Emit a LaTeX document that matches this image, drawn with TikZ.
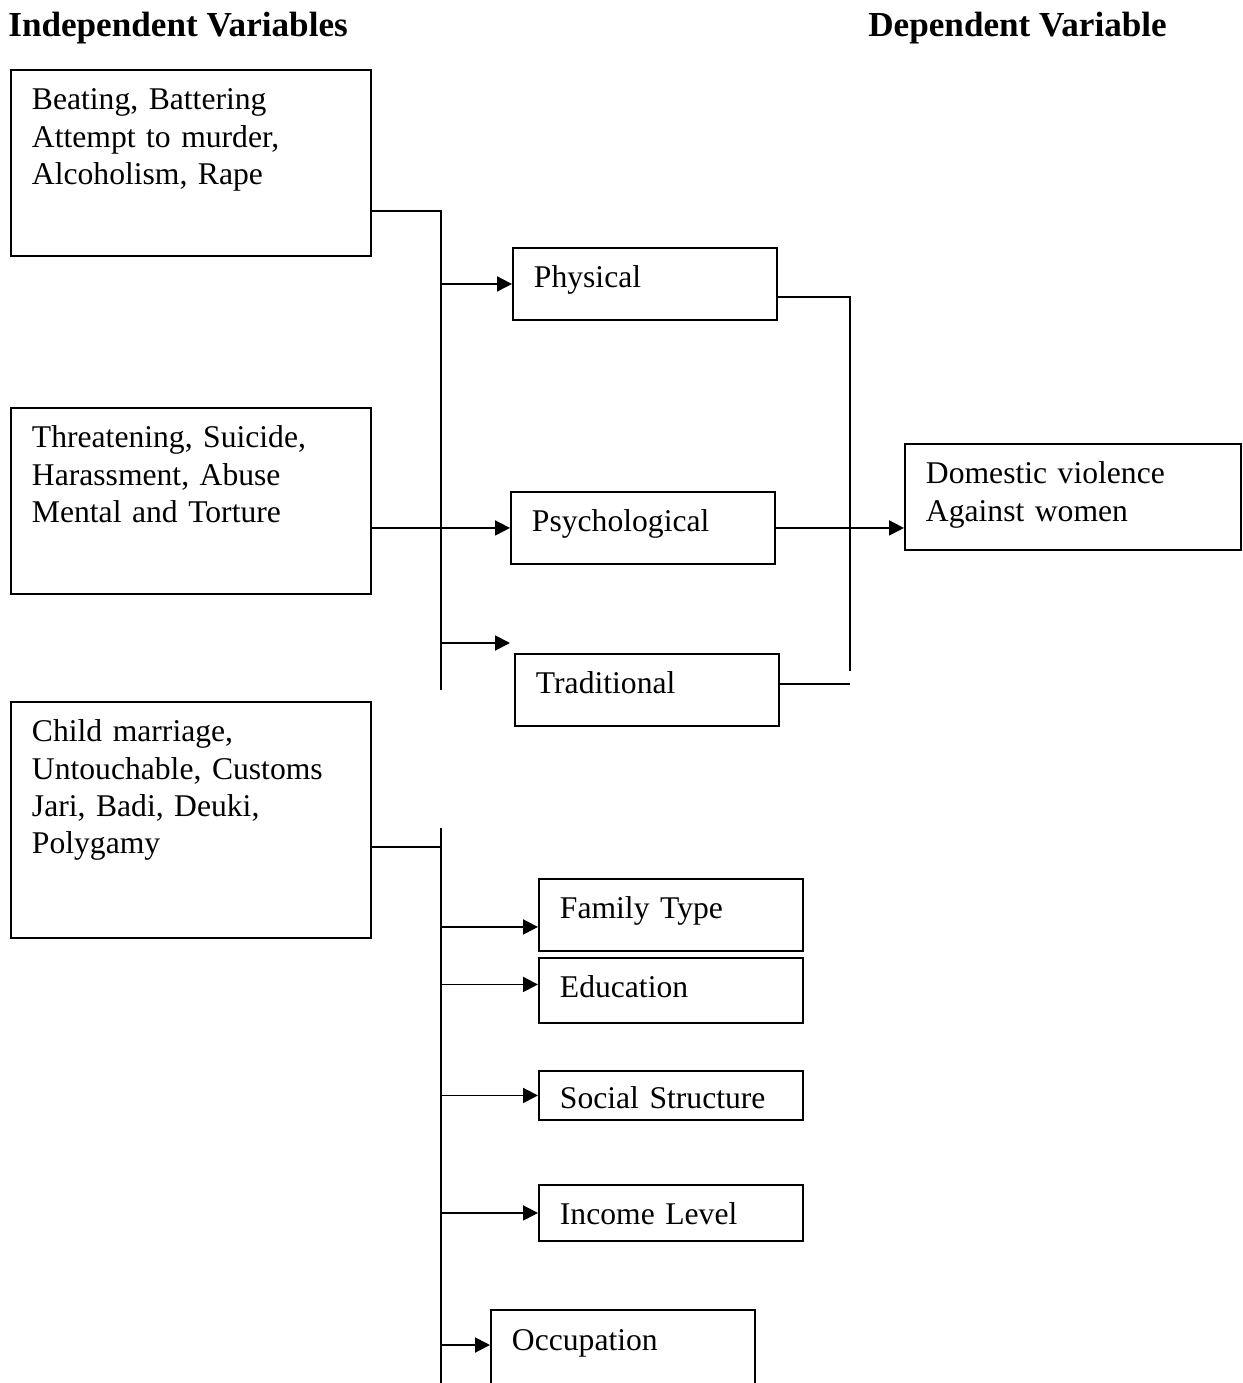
\documentclass[tikz,border=0pt]{standalone}
\usepackage{fontspec}
\setmainfont{Liberation Serif}
\usetikzlibrary{arrows.meta}

\begin{document}
\begin{tikzpicture}[x=0.02cm, y=-0.02cm,
    font=\fontsize{18}{21.1}\selectfont,
    box/.style={draw, line width=1.1pt, anchor=north west, align=left,
        inner xsep=0.42cm, inner ysep=0pt, text height=0.8cm},
    widebox/.style={box, text width=6.36cm},
    smallbox/.style={box, text width=4.44cm},
    heading/.style={anchor=base west, inner sep=0pt, font=\fontsize{20}{23}\selectfont\bfseries},
    link/.style={line width=1.1pt},
    arr/.style={link, -{Triangle[length=0.3cm, width=0.3cm]}}]
    \useasboundingbox (0,0) rectangle (1243,1383);

    % Headings
    \node[heading] (indep) at (8,36) {Independent Variables};
    \node[heading] (dep) at (868,36) {Dependent Variable};

    % Independent variables
    \node[widebox, text depth=2.92cm] (beat) at (10,69) {Beating, Battering\\Attempt to murder,\\Alcoholism, Rape};
    \node[widebox, text depth=2.92cm] (threat) at (10,407) {Threatening, Suicide,\\Harassment, Abuse\\Mental and Torture};
    \node[widebox, text depth=3.92cm] (child) at (10,701) {Child marriage,\\Untouchable, Customs\\Jari, Badi, Deuki,\\Polygamy};

    % Forms of violence
    \node[smallbox, text depth=0.64cm] (phys) at (512,247) {Physical};
    \node[smallbox, text depth=0.64cm] (psych) at (510,491) {Psychological};
    \node[smallbox, text depth=0.64cm] (trad) at (514,653) {Traditional};

    % Dependent variable
    \node[box, text width=5.88cm, text depth=1.32cm] (dv) at (904,443) {Domestic violence\\Against women};

    % Factors
    \node[smallbox, text depth=0.64cm] (fam) at (538,878) {Family Type};
    \node[smallbox, text depth=0.5cm] (edu) at (538,957) {Education};
    \node[smallbox, text height=0.76cm, text depth=0.22cm] (soc) at (538,1070) {Social Structure};
    \node[smallbox, text depth=0.32cm] (inc) at (538,1184) {Income Level};
    \node[smallbox, text height=0.82cm, text depth=1.4cm] (occ) at (490,1309) {Occupation};

    % Upper branch
    \coordinate (j1) at (441,211);
    \coordinate (j1end) at (441,690);
    \coordinate (t0) at (510,643);
    \draw[link] (beat.east |- j1) -- (j1) -- (j1end);
    \draw[arr] (j1 |- phys.west) -- (phys.west);
    \draw[arr] (threat.east |- psych.west) -- (psych.west);
    \draw[arr] (j1 |- t0) -- (t0);

    % Right branch
    \coordinate (j2) at (850,297);
    \coordinate (j2end) at (850,671);
    \coordinate (tr) at ([yshift=0.12cm]trad.east);
    \draw[link] (phys.east |- j2) -- (j2) -- (j2end);
    \draw[link] (tr) -- (tr -| j2);
    \draw[arr] (psych.east) -- (psych.east -| dv.west);

    % Lower branch
    \coordinate (j3) at (441,828);
    \coordinate (j3end) at (441,1400);
    \coordinate (j4) at (441,847);
    \coordinate (f0) at ([yshift=-0.24cm]fam.west);
    \coordinate (e0) at ([yshift=0.12cm]edu.west);
    \coordinate (o0) at (441,1345);
    \draw[link] (j3) -- (j3end);
    \draw[link] (child.east |- j4) -- (j4);
    \draw[arr] (j3 |- f0) -- (f0);
    \draw[arr] (j3 |- e0) -- (e0);
    \draw[arr] (j3 |- soc.west) -- (soc.west);
    \draw[arr] (j3 |- inc.west) -- (inc.west);
    \draw[arr] (o0) -- (o0 -| occ.west);
\end{tikzpicture}
\end{document}
